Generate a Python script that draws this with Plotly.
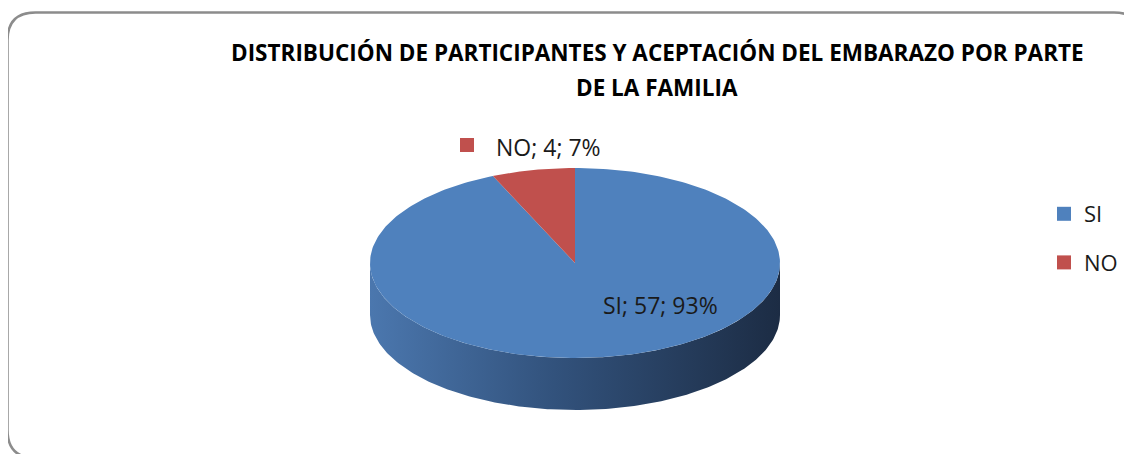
import numpy as np
import plotly.graph_objects as go

# ---- data ----
categories = ["SI", "NO"]
values = [57, 4]
percent_labels = ["93%", "7%"]
colors_top = ["#4F81BD", "#C0504D"]
side_scales = [
    [[0, "#4b77ae"], [0.45, "#32527c"], [1, "#1c2c44"]],
    [[0, "#c0504d"], [1, "#6e2a28"]],
]
title_lines = ["DISTRIBUCIÓN DE PARTICIPANTES Y ACEPTACIÓN DEL EMBARAZO POR PARTE", "DE LA FAMILIA"]

# ---- geometry (pixel-like axes; page body has an 8px margin) ----
W, H = 1132, 454
OFF = 8
cx, cy, rx, ry, depth = 575, 263, 205, 95, 52

def pt(theta_deg, dy=0.0):
    t = np.radians(theta_deg)
    return cx + rx * np.sin(t), cy - ry * np.cos(t) + dy

total = sum(values)
starts, ends = [], []
acc = 0.0
for v in values:
    starts.append(acc / total * 360)
    acc += v
    ends.append(acc / total * 360)

fig = go.Figure()

# side walls (front half: 90..270 deg clockwise from top)
for i, (a0, a1) in enumerate(zip(starts, ends)):
    s0, s1 = max(a0, 90), min(a1, 270)
    if s1 <= s0:
        continue
    th = np.linspace(s0, s1, 200)
    xt, yt = pt(th)
    xb, yb = pt(th[::-1], depth)
    xs = np.concatenate([xt, xb, xt[:1]])
    ys = np.concatenate([yt, yb, yt[:1]])
    fig.add_trace(go.Scatter(x=xs, y=ys, mode="lines", line=dict(width=0),
                             fill="toself",
                             fillgradient=dict(type="horizontal", colorscale=side_scales[i]),
                             hoverinfo="skip", showlegend=False))

# top faces
for i, (a0, a1) in enumerate(zip(starts, ends)):
    th = np.linspace(a0, a1, 300)
    xa, ya = pt(th)
    xs = np.concatenate([[cx], xa, [cx]])
    ys = np.concatenate([[cy], ya, [cy]])
    fig.add_trace(go.Scatter(x=xs, y=ys, mode="lines", line=dict(width=0),
                             fill="toself", fillcolor=colors_top[i],
                             hoverinfo="skip", showlegend=False))

# legend entries
for i, c in enumerate(categories):
    fig.add_trace(go.Scatter(x=[None], y=[None], mode="markers", name=c,
                             legendgroup=c,
                             marker=dict(symbol="square", size=14, color=colors_top[i])))

font_fam = "Open Sans, Liberation Sans, sans-serif"

# data labels
label_pos = {"SI": (601, 305), "NO": (494, 147)}
for i, c in enumerate(categories):
    lx, ly = label_pos[c]
    txt = f"{c}; {values[i]}; {percent_labels[i]}"
    fig.add_annotation(x=lx, y=ly, text=txt, showarrow=False, xanchor="left",
                       yanchor="middle", font=dict(family=font_fam, size=23, color="#1a1a1a"))
    fig.add_trace(go.Scatter(x=[lx - 27], y=[ly - 2], mode="markers",
                             marker=dict(symbol="square", size=14, color=colors_top[i]),
                             hoverinfo="skip", showlegend=False))

# title
for k, (line, yy) in enumerate(zip(title_lines, [52, 87])):
    fig.add_annotation(x=657, y=yy, text=f"<b>{line}</b>", showarrow=False,
                       xanchor="center", yanchor="middle",
                       font=dict(family=font_fam, size=22.5, color="#000000"))

# chart border (rounded rectangle)
x0, y0, x1, y1, r = 7.5, 12.5, 1142, 458, 28
path = (f"M {x0+r},{y0} L {x1-r},{y0} Q {x1},{y0} {x1},{y0+r} "
        f"L {x1},{y1-r} Q {x1},{y1} {x1-r},{y1} L {x0+r},{y1} "
        f"Q {x0},{y1} {x0},{y1-r} L {x0},{y0+r} Q {x0},{y0} {x0+r},{y0} Z")
fig.add_shape(type="path", path=path, xref="x", yref="y",
              line=dict(color="#8c8c8c", width=2.5), layer="above")

fig.update_layout(
    width=W - OFF, height=H - OFF,
    margin=dict(l=0, r=0, t=0, b=0),
    paper_bgcolor="white", plot_bgcolor="white",
    xaxis=dict(range=[OFF, W], visible=False, fixedrange=True),
    yaxis=dict(range=[H, OFF], visible=False, fixedrange=True),
    showlegend=True,
    legend=dict(x=(1044 - OFF) / (W - OFF), y=1 - (193 - OFF) / (H - OFF),
                xanchor="left", yanchor="top",
                font=dict(family=font_fam, size=22, color="#1a1a1a"),
                tracegroupgap=17, bgcolor="rgba(0,0,0,0)", itemwidth=30),
)

fig.write_html("out.html")
